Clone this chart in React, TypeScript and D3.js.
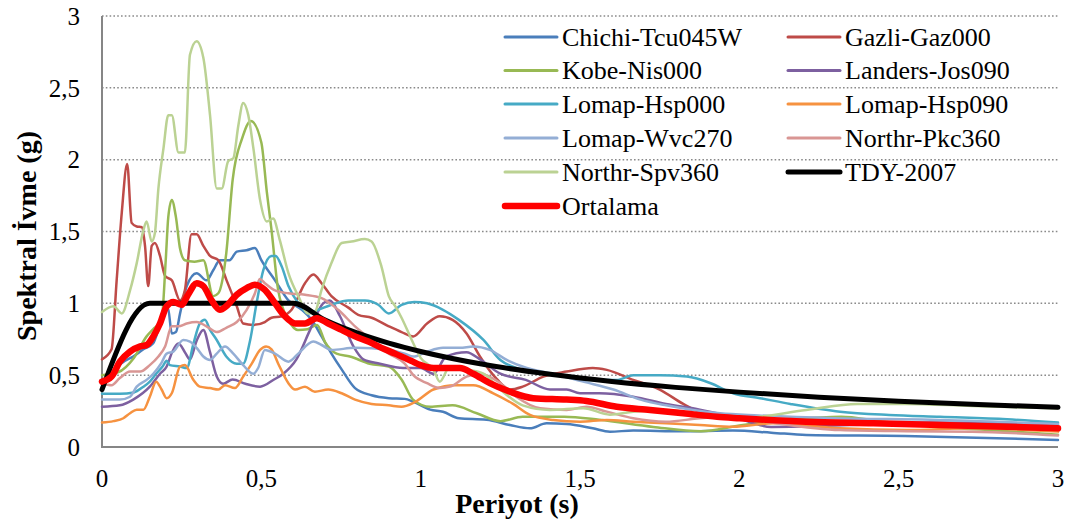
import React from "react";
import * as d3 from "d3";

type Pt = [number, number];

const chichiTcu045W: Pt[] = [[0,0.44],[0.03,0.5],[0.06,0.58],[0.098,0.63],[0.13,0.68],[0.16,0.72],[0.18,0.84],[0.195,0.95],[0.207,0.97],[0.219,0.79],[0.232,0.8],[0.245,0.93],[0.266,1.12],[0.297,1.21],[0.328,1.16],[0.349,1.23],[0.37,1.3],[0.4,1.3],[0.423,1.36],[0.454,1.37],[0.48,1.385],[0.5,1.3],[0.543,1.16],[0.585,1.02],[0.627,0.955],[0.658,0.885],[0.689,0.77],[0.72,0.65],[0.752,0.54],[0.794,0.41],[0.846,0.36],[0.9,0.34],[0.95,0.335],[0.977,0.315],[1.03,0.26],[1.07,0.245],[1.12,0.2],[1.207,0.19],[1.28,0.153],[1.343,0.13],[1.395,0.165],[1.458,0.16],[1.54,0.13],[1.594,0.107],[1.667,0.114],[1.82,0.11],[1.98,0.114],[2.1,0.1],[2.21,0.084],[2.52,0.077],[2.84,0.06],[3.0,0.049]];
const gazliGaz000: Pt[] = [[0,0.61],[0.03,0.68],[0.046,1.16],[0.062,1.63],[0.079,1.97],[0.093,1.56],[0.109,1.535],[0.125,1.53],[0.135,1.4],[0.145,1.12],[0.156,1.4],[0.166,1.42],[0.182,1.33],[0.198,1.19],[0.219,1.16],[0.245,1.02],[0.26,1.09],[0.281,1.48],[0.297,1.48],[0.318,1.4],[0.339,1.33],[0.365,1.3],[0.391,1.16],[0.423,0.98],[0.443,0.86],[0.475,0.85],[0.511,0.87],[0.532,0.9],[0.564,0.91],[0.595,0.955],[0.637,1.14],[0.663,1.2],[0.689,1.14],[0.72,1.05],[0.773,0.97],[0.804,0.92],[0.846,0.9],[0.9,0.84],[0.94,0.8],[0.977,0.77],[1.02,0.86],[1.06,0.91],[1.1,0.885],[1.144,0.79],[1.186,0.63],[1.24,0.47],[1.28,0.4],[1.32,0.42],[1.385,0.49],[1.458,0.525],[1.54,0.55],[1.584,0.537],[1.667,0.467],[1.75,0.4],[1.824,0.3],[1.887,0.235],[2.0,0.2],[2.2,0.18],[2.5,0.16],[2.8,0.14],[3.0,0.13]];
const kobeNis000: Pt[] = [[0,0.5],[0.05,0.52],[0.1,0.62],[0.14,0.77],[0.161,0.82],[0.187,0.885],[0.2,1.3],[0.208,1.6],[0.219,1.72],[0.232,1.6],[0.245,1.38],[0.26,1.3],[0.29,1.29],[0.318,1.3],[0.349,1.05],[0.365,1.07],[0.39,1.35],[0.41,1.86],[0.44,2.15],[0.467,2.27],[0.5,2.12],[0.517,1.78],[0.532,1.51],[0.553,1.09],[0.585,0.885],[0.615,0.815],[0.645,0.82],[0.675,0.85],[0.7,0.73],[0.736,0.65],[0.778,0.63],[0.84,0.58],[0.9,0.56],[0.94,0.47],[0.976,0.33],[1.03,0.28],[1.1,0.29],[1.176,0.235],[1.25,0.18],[1.32,0.21],[1.45,0.21],[1.56,0.19],[1.73,0.14],[1.88,0.11],[2.0,0.15],[2.16,0.19],[2.32,0.21],[2.44,0.18],[2.63,0.14],[2.84,0.11],[3.0,0.085]];
const landersJos090: Pt[] = [[0,0.28],[0.056,0.29],[0.098,0.33],[0.15,0.42],[0.182,0.51],[0.203,0.56],[0.22,0.66],[0.24,0.72],[0.26,0.66],[0.276,0.61],[0.297,0.74],[0.318,0.815],[0.339,0.66],[0.36,0.49],[0.38,0.44],[0.41,0.47],[0.45,0.44],[0.496,0.42],[0.54,0.47],[0.569,0.51],[0.61,0.61],[0.653,0.815],[0.694,1.0],[0.715,1.02],[0.747,0.91],[0.789,0.7],[0.82,0.61],[0.872,0.58],[0.945,0.55],[1.0,0.55],[1.04,0.51],[1.08,0.63],[1.144,0.66],[1.186,0.61],[1.25,0.51],[1.33,0.467],[1.406,0.4],[1.458,0.4],[1.5,0.374],[1.56,0.374],[1.667,0.35],[1.77,0.3],[1.876,0.26],[1.98,0.21],[2.1,0.14],[2.3,0.15],[2.6,0.17],[3.0,0.16]];
const lomapHsp000: Pt[] = [[0,0.37],[0.056,0.37],[0.1,0.38],[0.13,0.42],[0.15,0.455],[0.17,0.51],[0.19,0.56],[0.203,0.6],[0.213,0.57],[0.245,0.56],[0.266,0.55],[0.287,0.72],[0.307,0.86],[0.323,0.885],[0.339,0.815],[0.36,0.745],[0.39,0.63],[0.423,0.58],[0.443,0.58],[0.465,0.745],[0.485,1.0],[0.506,1.23],[0.532,1.33],[0.545,1.33],[0.564,1.256],[0.585,1.12],[0.616,1.0],[0.647,0.93],[0.679,0.955],[0.72,0.99],[0.773,1.02],[0.825,1.02],[0.867,0.99],[0.9,0.93],[0.94,0.99],[0.98,1.01],[1.02,1.0],[1.07,0.955],[1.12,0.885],[1.197,0.745],[1.25,0.606],[1.3,0.55],[1.353,0.525],[1.437,0.5],[1.52,0.467],[1.615,0.467],[1.667,0.5],[1.75,0.5],[1.835,0.49],[1.91,0.444],[1.98,0.374],[2.065,0.34],[2.16,0.3],[2.316,0.246],[2.47,0.223],[2.63,0.21],[2.84,0.193],[3.0,0.17]];
const lomapHsp090: Pt[] = [[0,0.17],[0.036,0.18],[0.067,0.2],[0.088,0.235],[0.109,0.26],[0.13,0.26],[0.15,0.35],[0.17,0.455],[0.187,0.4],[0.203,0.34],[0.219,0.374],[0.245,0.56],[0.26,0.57],[0.287,0.467],[0.307,0.42],[0.339,0.41],[0.365,0.4],[0.386,0.43],[0.417,0.41],[0.443,0.49],[0.47,0.58],[0.496,0.676],[0.515,0.7],[0.532,0.68],[0.553,0.58],[0.585,0.444],[0.606,0.4],[0.637,0.42],[0.668,0.385],[0.71,0.4],[0.752,0.374],[0.794,0.33],[0.846,0.3],[0.9,0.29],[0.94,0.28],[0.98,0.31],[1.04,0.4],[1.11,0.43],[1.165,0.43],[1.228,0.374],[1.29,0.3],[1.343,0.223],[1.416,0.188],[1.5,0.176],[1.584,0.188],[1.667,0.176],[1.77,0.165],[1.876,0.153],[1.98,0.141],[2.106,0.165],[2.316,0.13],[2.525,0.118],[2.73,0.13],[3.0,0.107]];
const lomapWvc270: Pt[] = [[0,0.33],[0.056,0.33],[0.088,0.35],[0.109,0.42],[0.14,0.467],[0.161,0.51],[0.185,0.58],[0.203,0.65],[0.224,0.664],[0.255,0.745],[0.276,0.734],[0.297,0.69],[0.318,0.63],[0.339,0.606],[0.36,0.65],[0.386,0.7],[0.412,0.65],[0.443,0.57],[0.475,0.51],[0.49,0.55],[0.511,0.676],[0.543,0.65],[0.585,0.594],[0.616,0.65],[0.663,0.734],[0.689,0.71],[0.72,0.676],[0.794,0.69],[0.9,0.676],[0.95,0.65],[0.977,0.63],[1.02,0.664],[1.07,0.69],[1.123,0.69],[1.165,0.7],[1.217,0.676],[1.27,0.606],[1.333,0.55],[1.416,0.51],[1.51,0.455],[1.605,0.4],[1.69,0.33],[1.77,0.29],[1.855,0.258],[1.94,0.235],[2.06,0.22],[2.3,0.2],[2.6,0.19],[3.0,0.16]];
const northrPkc360: Pt[] = [[0,0.44],[0.03,0.43],[0.056,0.48],[0.088,0.525],[0.12,0.525],[0.15,0.57],[0.177,0.63],[0.198,0.7],[0.219,0.84],[0.24,0.84],[0.266,0.86],[0.297,0.87],[0.328,0.84],[0.36,0.8],[0.39,0.83],[0.423,0.87],[0.454,0.955],[0.48,1.07],[0.495,1.17],[0.511,1.14],[0.543,1.09],[0.585,1.07],[0.637,1.06],[0.689,1.036],[0.741,0.955],[0.794,0.84],[0.846,0.745],[0.9,0.65],[0.95,0.58],[0.977,0.5],[1.02,0.444],[1.06,0.41],[1.092,0.42],[1.144,0.49],[1.186,0.51],[1.25,0.444],[1.3,0.35],[1.375,0.27],[1.458,0.258],[1.52,0.28],[1.584,0.246],[1.667,0.2],[1.77,0.176],[1.876,0.2],[1.98,0.21],[2.1,0.17],[2.316,0.118],[2.525,0.11],[2.73,0.107],[3.0,0.08]];
const northrSpv360: Pt[] = [[0,0.94],[0.036,0.98],[0.062,0.93],[0.088,1.09],[0.109,1.28],[0.13,1.51],[0.14,1.57],[0.156,1.43],[0.166,1.49],[0.177,1.8],[0.193,2.08],[0.208,2.31],[0.219,2.31],[0.24,2.05],[0.26,2.05],[0.276,2.73],[0.297,2.825],[0.318,2.71],[0.339,2.31],[0.36,1.8],[0.376,1.8],[0.396,1.99],[0.412,2.01],[0.428,2.24],[0.443,2.395],[0.459,2.31],[0.475,2.08],[0.496,1.72],[0.517,1.57],[0.537,1.59],[0.558,1.44],[0.585,1.21],[0.616,1.05],[0.647,0.93],[0.668,0.94],[0.689,1.094],[0.72,1.28],[0.752,1.42],[0.783,1.43],[0.825,1.447],[0.846,1.43],[0.877,1.256],[0.9,1.05],[0.92,0.98],[0.94,0.9],[0.972,0.745],[1.0,0.62],[1.04,0.54],[1.06,0.455],[1.092,0.56],[1.14,0.54],[1.197,0.51],[1.25,0.4],[1.32,0.29],[1.406,0.258],[1.51,0.27],[1.594,0.225],[1.667,0.246],[1.77,0.258],[1.9,0.22],[2.0,0.2],[2.21,0.258],[2.37,0.3],[2.52,0.3],[2.73,0.285],[3.0,0.27]];
const tdy2007: Pt[] = [[0,0.4],[0.15,1.0],[0.6,1.0],[0.7,0.884],[0.8,0.794],[0.9,0.723],[1.0,0.665],[1.2,0.574],[1.4,0.508],[1.6,0.456],[1.8,0.415],[2.0,0.382],[2.25,0.347],[2.5,0.319],[2.75,0.296],[3.0,0.276]];
const ortalama: Pt[] = [[0,0.455],[0.03,0.49],[0.056,0.594],[0.088,0.664],[0.12,0.7],[0.14,0.71],[0.161,0.77],[0.182,0.86],[0.203,0.98],[0.224,1.01],[0.25,0.99],[0.27,1.06],[0.297,1.14],[0.318,1.12],[0.344,1.02],[0.37,0.955],[0.39,0.98],[0.423,1.06],[0.454,1.106],[0.48,1.13],[0.511,1.094],[0.543,1.0],[0.574,0.91],[0.606,0.86],[0.637,0.86],[0.674,0.897],[0.71,0.86],[0.752,0.815],[0.794,0.77],[0.836,0.734],[0.877,0.69],[0.92,0.65],[0.97,0.6],[1.0,0.57],[1.04,0.55],[1.123,0.55],[1.165,0.51],[1.217,0.444],[1.28,0.385],[1.353,0.34],[1.458,0.33],[1.52,0.32],[1.615,0.28],[1.72,0.258],[1.824,0.235],[1.93,0.21],[2.0,0.2],[2.21,0.176],[2.42,0.165],[2.63,0.153],[2.84,0.141],[3.0,0.13]];

const seriesNames = ["Chichi-Tcu045W","Gazli-Gaz000","Kobe-Nis000","Landers-Jos090","Lomap-Hsp000","Lomap-Hsp090","Lomap-Wvc270","Northr-Pkc360","Northr-Spv360","TDY-2007","Ortalama"];
const seriesData = [chichiTcu045W,gazliGaz000,kobeNis000,landersJos090,lomapHsp000,lomapHsp090,lomapWvc270,northrPkc360,northrSpv360,tdy2007,ortalama];
const seriesColors = ["#4A7EBB","#BE4B48","#98B954","#7D60A0","#46AAC5","#F69240","#94AED5","#D99694","#BBD293","#000000","#FF0000"];
const seriesWidths = [2.5,2.5,2.5,2.5,2.5,2.5,2.5,2.5,2.5,5,6.5];

const xTicks = [0,0.5,1,1.5,2,2.5,3];
const yTicks = [0,0.5,1,1.5,2,2.5,3];
const fmt = (v: number) => String(v).replace(".", ",");

const FONT = '"Liberation Serif", "Times New Roman", Times, "DejaVu Serif", serif';

export default function App() {
  const W = 1075, H = 525;
  const x = d3.scaleLinear().domain([0, 3]).range([102, 1058]);
  const y = d3.scaleLinear().domain([0, 3]).range([447, 16]);
  const line = d3.line<Pt>().x(d => x(d[0])).y(d => y(d[1])).curve(d3.curveMonotoneX);
  const legendRows = [37, 70.5, 104, 138, 172, 206];
  const legendCols = [505, 788];
  const ts = { fontFamily: FONT };
  return (
    <svg width={W} height={H} style={{ position: "absolute", left: 0, top: 0, background: "#fff", fontFamily: FONT }}>
      {yTicks.filter(t => t > 0).map(t => (
        <line key={"g" + t} x1={x(0)} x2={x(3)} y1={y(t)} y2={y(t)} stroke="#8a8a8a" strokeWidth={1.5} strokeDasharray="1.6 2.2" />
      ))}
      <line x1={x(0)} x2={x(0)} y1={y(3)} y2={y(0)} stroke="#868686" strokeWidth={2} />
      <line x1={x(0) - 1} x2={x(3)} y1={y(0)} y2={y(0)} stroke="#868686" strokeWidth={2} />
      {yTicks.map(t => (
        <text key={"yt" + t} style={ts} x={80} y={y(t)} dy="0.35em" textAnchor="end" fontSize={25}>{fmt(t)}</text>
      ))}
      {xTicks.map(t => (
        <text key={"xt" + t} style={ts} x={x(t)} y={487} textAnchor="middle" fontSize={25}>{fmt(t)}</text>
      ))}
      <text style={ts} x={517} y={513} textAnchor="middle" fontSize={28} fontWeight="bold">Periyot (s)</text>
      <text style={ts} transform="translate(36,236) rotate(-90)" textAnchor="middle" fontSize={28} fontWeight="bold">Spektral İvme (g)</text>
      {seriesData.map((s, i) => (
        <path key={"s" + i} d={line(s) || ""} fill="none" stroke={seriesColors[i]} strokeWidth={seriesWidths[i]} strokeLinejoin="round" strokeLinecap="round" />
      ))}
      {seriesNames.map((n, i) => {
        const cx = legendCols[i % 2];
        const cy = legendRows[Math.floor(i / 2)];
        return (
          <g key={"l" + i}>
            <line x1={cx} x2={cx + 52} y1={cy} y2={cy} stroke={seriesColors[i]} strokeWidth={seriesWidths[i] === 2.5 ? 3 : seriesWidths[i]} strokeLinecap="round" />
            <text style={ts} x={cx + 57} y={cy} dy="0.33em" fontSize={26}>{n}</text>
          </g>
        );
      })}
    </svg>
  );
}
